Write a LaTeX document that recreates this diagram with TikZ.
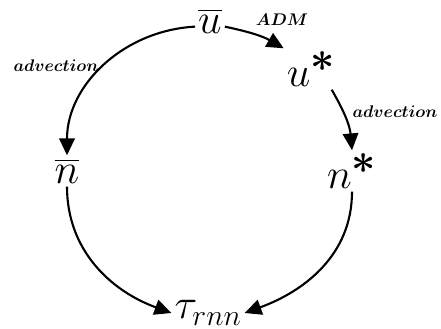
\RequirePackage{fix-cm}
\documentclass[tikz,border=0pt]{standalone}
\usepackage{amsmath}
\usetikzlibrary{arrows.meta,positioning}

\begin{document}
\begin{tikzpicture}[x=0.025cm,y=-0.025cm,
  v/.style={inner sep=2pt,font=\fontsize{30}{36}\selectfont},
  lab/.style={inner sep=0pt,font=\fontsize{12}{14}\selectfont},
  arr/.style={line width=1.5pt,-{Triangle[length=12pt,width=11pt]}}]
\useasboundingbox (0,0) rectangle (441,329);
\node[v] (ub) at (210,21) {$\overline{u}$};
\node[v] (us) at (311,69) {$u^{\textstyle\boldsymbol{\ast}}$};
\node[v] (nb) at (67,171) {$\overline{n}$};
\node[v] (ns) at (352,171) {$n^{\textstyle\boldsymbol{\ast}}$};
\node[v] (tau) at (208,313) {$\tau_{rnn}$};
\node[lab] (adm) at (282,20) {$\boldsymbol{ADM}$};
\node[lab] (adl) at (56,66) {$\boldsymbol{advection}$};
\node[lab] (adr) at (395,112) {$\boldsymbol{advection}$};
\draw[arr] ([yshift=-4pt]ub.east) to[out=-12,in=150] (us.north west);
\draw[arr] ([yshift=-4pt]ub.west) to[out=183,in=90] (nb.north);
\draw[arr] (us.-45) to[out=-60,in=95] (ns.north);
\draw[arr] (nb.south) to[out=-90,in=160] (tau.west);
\draw[arr] (ns.south) to[out=-90,in=20] (tau.east);
\end{tikzpicture}
\end{document}
